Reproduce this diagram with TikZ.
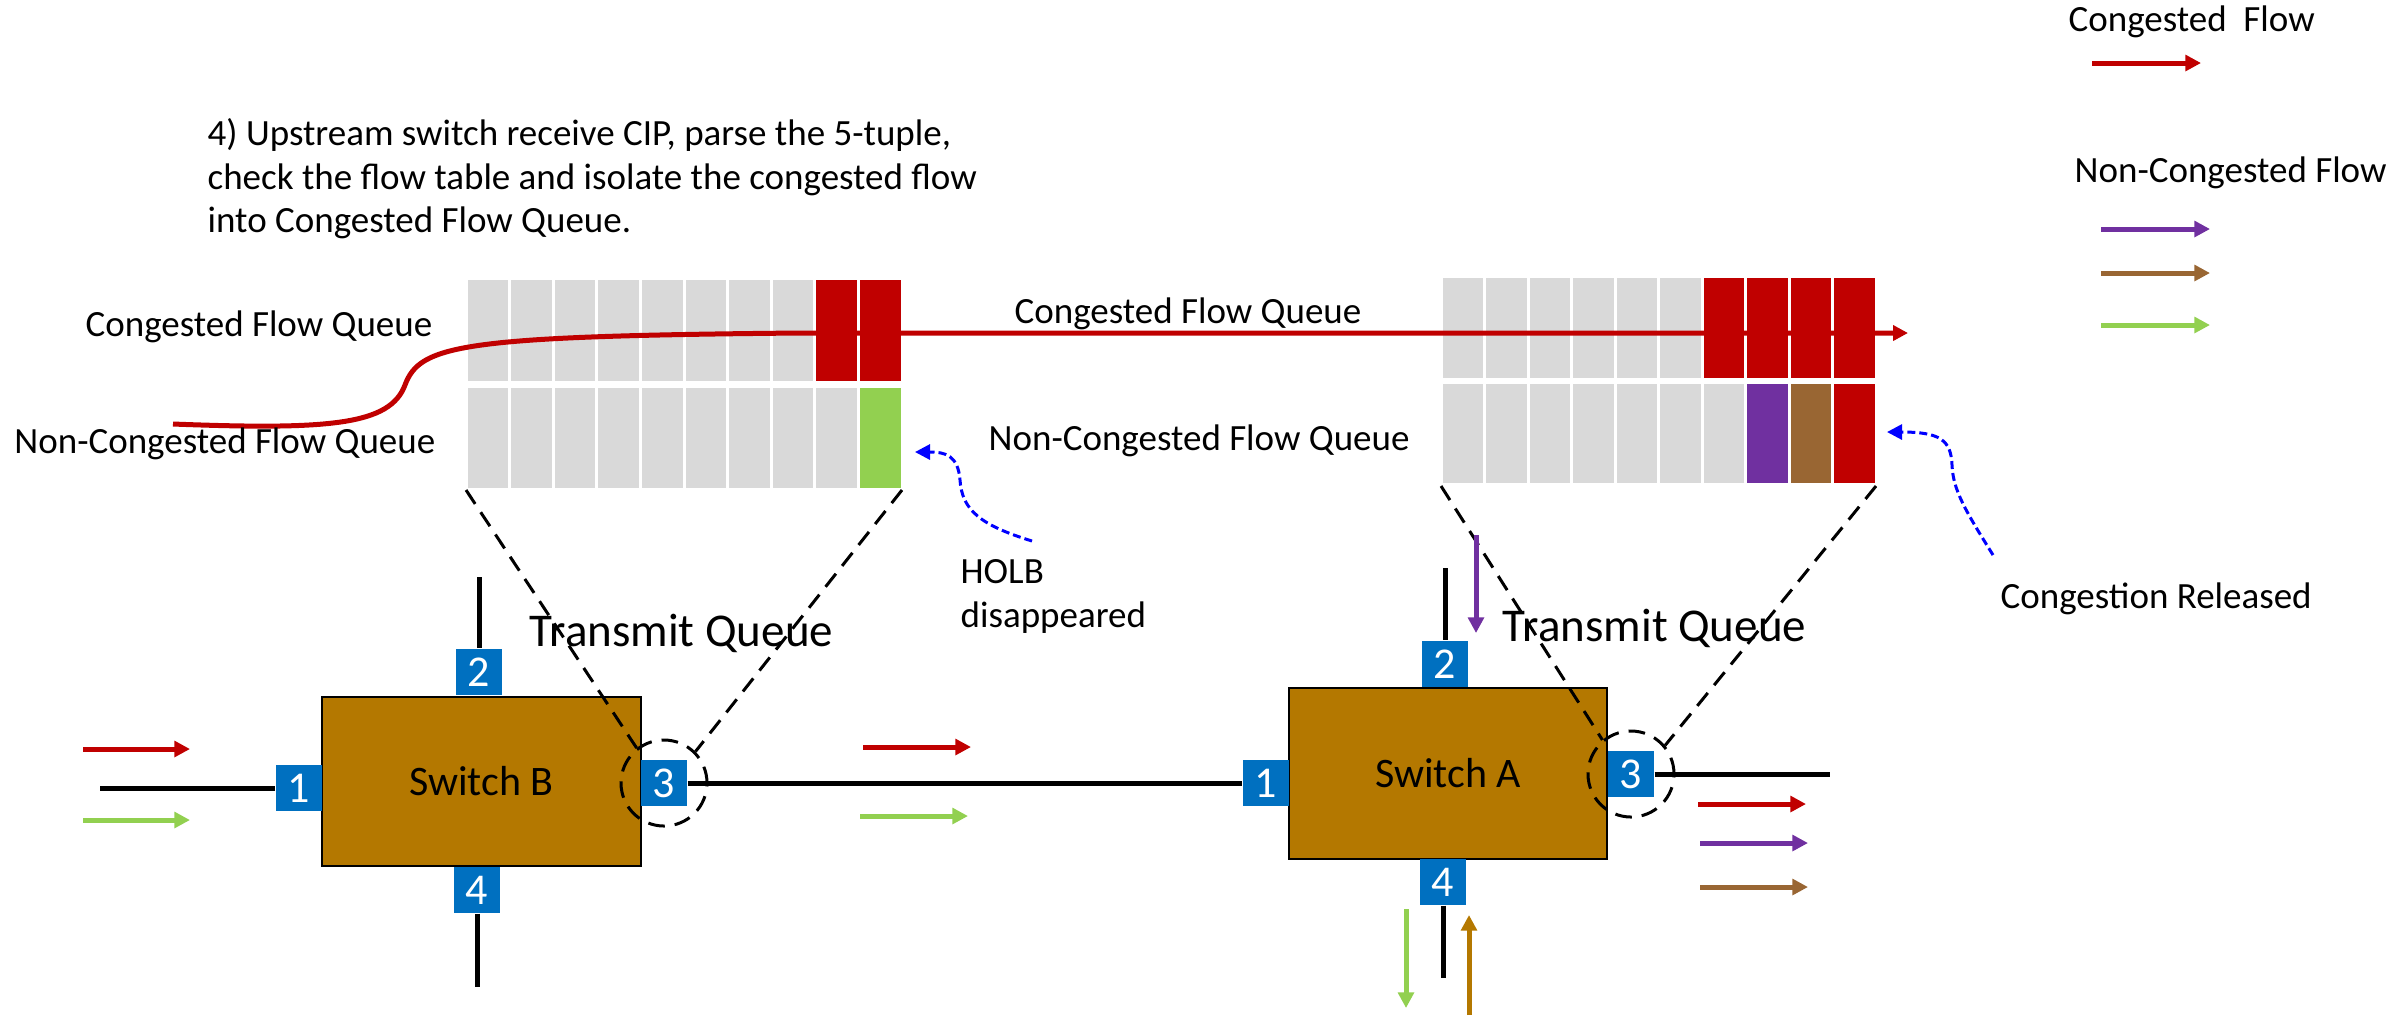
\documentclass[tikz,border=0pt]{standalone}
\usepackage{fontspec}
\setmainfont{Carlito}
\usetikzlibrary{arrows.meta}
\definecolor{qgray}{HTML}{D9D9D9}
\definecolor{cred}{HTML}{C00000}
\definecolor{cgreen}{HTML}{92D050}
\definecolor{cpurple}{HTML}{7030A0}
\definecolor{cbrown}{HTML}{996633}
\definecolor{portblue}{HTML}{0070C0}
\definecolor{switchc}{HTML}{B47800}
\definecolor{cblue}{HTML}{0000FF}
\begin{document}
\begin{tikzpicture}[x=0.3pt,y=-0.3pt,
  txt/.style={inner sep=0pt, font=\fontsize{11.1}{13.3}\selectfont},
  bigtxt/.style={inner sep=0pt, font=\fontsize{14.1}{17}\selectfont},
  swtxt/.style={draw=black, line width=0.8pt, fill=switchc, inner sep=0pt, font=\fontsize{12.6}{15}\selectfont},
  port/.style={fill=portblue, text=white, minimum size=13.8pt, inner sep=0pt, font=\fontsize{13.2}{15}\selectfont},
  wire/.style={line width=1.5pt, black},
  flow/.style={line width=1.5pt, -{Triangle[length=4.7pt,width=4.7pt]}},
  zoomline/.style={line width=0.9pt, dash pattern=on 5pt off 3pt},
  zoomcirc/.style={draw, circle, line width=0.9pt, dash pattern=on 5pt off 3pt, minimum size=25.8pt, inner sep=0pt},
  hint/.style={cblue, line width=0.9pt, dash pattern=on 2.4pt off 1.2pt, -{Triangle[length=4.5pt,width=4.5pt]}},
]
\useasboundingbox (0,0) rectangle (2396,1015);

% ---------- queues ----------
\foreach \i in {0,...,9} {
  \fill[qgray] ({466+43.6*\i+1.5},280) rectangle ({466+43.6*(\i+1)-1.5},381);
  \fill[qgray] ({466+43.6*\i+1.5},388) rectangle ({466+43.6*(\i+1)-1.5},488);
  \fill[qgray] ({1441+43.5*\i+1.5},278) rectangle ({1441+43.5*(\i+1)-1.5},378);
  \fill[qgray] ({1441+43.5*\i+1.5},384) rectangle ({1441+43.5*(\i+1)-1.5},483);
}
\foreach \i in {8,9} \fill[cred] ({466+43.6*\i+1.5},280) rectangle ({466+43.6*(\i+1)-1.5},381);
\fill[cgreen] ({466+43.6*9+1.5},388) rectangle ({466+43.6*10-1.5},488);
\foreach \i in {6,...,9} \fill[cred] ({1441+43.5*\i+1.5},278) rectangle ({1441+43.5*(\i+1)-1.5},378);
\fill[cpurple] ({1441+43.5*7+1.5},384) rectangle ({1441+43.5*8-1.5},483);
\fill[cbrown] ({1441+43.5*8+1.5},384) rectangle ({1441+43.5*9-1.5},483);
\fill[cred] ({1441+43.5*9+1.5},384) rectangle ({1441+43.5*10-1.5},483);

\coordinate (lqbl) at (466,490);
\coordinate (lqbr) at (902,490);
\coordinate (rqbl) at (1441,486);
\coordinate (rqbr) at (1876,486);

% congested flow path
\coordinate (cfstart) at (173,424);
\coordinate (cfend) at (1908,333);
\draw[cred, line width=1.5pt, -{Triangle[length=4.5pt,width=4.5pt]}]
  (cfstart) .. controls (330,430) and (390,425) .. (405,385)
  .. controls (420,345) and (460,336) .. (800,333) -- (cfend);

% ---------- labels ----------
\node[txt, anchor=base west] (t1) at (207,145) {4) Upstream switch receive CIP, parse the 5-tuple,};
\node[txt, anchor=base west] (t2) at (207,189) {check the flow table and isolate the congested flow};
\node[txt, anchor=base west] (t3) at (207,232) {into Congested Flow Queue.};

\node[txt, anchor=east] (lcq) at (433,327) {Congested Flow Queue};
\node[txt, anchor=east] (lnq) at (436,444) {Non-Congested Flow Queue};
\node[txt, anchor=west] (mcq) at (1014,314) {Congested Flow Queue};
\node[txt, anchor=west] (mnq) at (988,441) {Non-Congested Flow Queue};

\node[txt, anchor=west] (holb1) at (960,572) {HOLB};
\node[txt, anchor=west] (holb2) at (960,618) {disappeared};
\node[txt, anchor=west] (rel) at (2000,599) {Congestion Released};

\node[txt, anchor=west] (lg1) at (2068,22) {Congested\ \ Flow};
\node[txt, anchor=west] (lg2) at (2074,173) {Non-Congested Flow};

% ---------- switches ----------
\node[swtxt, minimum width=95.7pt, minimum height=50.7pt] (swb) at (481.5,781.5) {Switch B};
\node[swtxt, minimum width=95.4pt, minimum height=51.3pt] (swa) at (1448,773.5) {Switch A};

\node[port] (b1) at (299,788) {1};
\node[port] (b2) at (479,672) {2};
\node[port] (b3) at (664,783) {3};
\node[port] (b4) at (477,890) {4};

\node[port] (a1) at (1266,783) {1};
\node[port] (a2) at (1445,664) {2};
\node[port] (a3) at (1631,774) {3};
\node[port] (a4) at (1443,882) {4};

\coordinate (b1end) at (100,788);
\coordinate (b2end) at (479,577);
\coordinate (b4end) at (477,987);
\coordinate (a2end) at (1445,568);
\coordinate (a4end) at (1443,978);
\coordinate (a3end) at (1830,774);

\draw[wire] (b1end) -- (b1.west);
\draw[wire] (b2end) -- (b2.north);
\draw[wire] (b4.south) -- (b4end);
\draw[wire] (b3.east) -- (a1.west);
\draw[wire] (a2end) -- (a2.north);
\draw[wire] (a4.south) -- (a4end);
\draw[wire] (a3.east) -- (a3end);

% zoom circles and lines
\node[zoomcirc] (cb) at (664,783) {};
\node[zoomcirc] (ca) at (1631,774) {};
\draw[zoomline] (lqbl) -- (cb.128);
\draw[zoomline] (lqbr) -- (cb.45);
\draw[zoomline] (rqbl) -- (ca.130);
\draw[zoomline] (rqbr) -- (ca.40);

\node[bigtxt, anchor=west] (tqb) at (529,633) {Transmit Queue};
\node[bigtxt, anchor=west] (tqa) at (1502,628) {Transmit Queue};

% ---------- flow arrows ----------
\draw[flow, cred] (83,749) -- (190,749);
\draw[flow, cgreen] (83,820) -- (190,820);
\draw[flow, cred] (863,747) -- (971,747);
\draw[flow, cgreen] (860,816) -- (968,816);
\draw[flow, cred] (1698,804) -- (1806,804);
\draw[flow, cpurple] (1700,843) -- (1808,843);
\draw[flow, cbrown] (1700,887) -- (1808,887);
\draw[flow, cpurple] (1476,535) -- (1476,633);
\draw[flow, cgreen] (1406,909) -- (1406,1008);
\draw[flow, switchc] (1469,1015) -- (1469,915);

% legend arrows
\draw[flow, cred] (2092,63) -- (2201,63);
\draw[flow, cpurple] (2101,229) -- (2210,229);
\draw[flow, cbrown] (2101,273) -- (2210,273);
\draw[flow, cgreen] (2101,325) -- (2210,325);

% hint arrows
\coordinate (holbtip) at (915,452);
\coordinate (holbstart) at (1032,541);
\draw[hint] (holbstart) .. controls (980,525) and (962,510) .. (960,480)
  .. controls (958,455) and (945,452) .. (holbtip);
\coordinate (reltip) at (1887,432);
\coordinate (relstart) at (1993,555);
\draw[hint] (relstart) .. controls (1965,510) and (1953,490) .. (1952,465)
  .. controls (1951,440) and (1940,432) .. (reltip);
\end{tikzpicture}
\end{document}
